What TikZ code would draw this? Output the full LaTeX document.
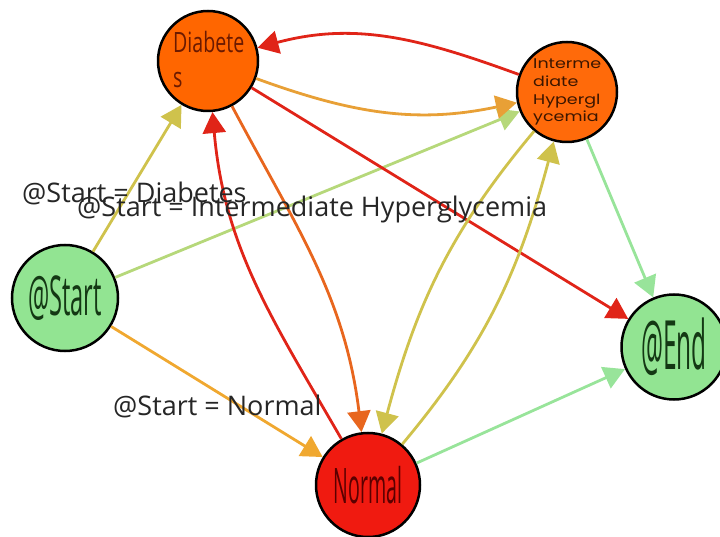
\documentclass[tikz,border=0pt]{standalone}
\usepackage{fontspec}
\usepackage{graphicx}
\setmainfont{Open Sans}
\newfontfamily\geofont{Poppins}
\usetikzlibrary{arrows.meta}

\definecolor{diabfill}{HTML}{FF6600}
\definecolor{interfill}{HTML}{FF6A0A}
\definecolor{greenfill}{HTML}{92E492}
\definecolor{normfill}{HTML}{F01A10}
\definecolor{diabtext}{HTML}{6B1A00}
\definecolor{intertext}{HTML}{3C1600}
\definecolor{greentext}{HTML}{143814}
\definecolor{normtext}{HTML}{5A0000}
\definecolor{labeltext}{HTML}{262626}
\definecolor{olive}{HTML}{CFC24C}
\definecolor{lime}{HTML}{B6D87A}
\definecolor{amber}{HTML}{F0A830}
\definecolor{redline}{HTML}{E02418}
\definecolor{orangeline}{HTML}{E8A036}
\definecolor{rust}{HTML}{E8661E}
\definecolor{paleg}{HTML}{98E49A}

\tikzset{
  state/.style={circle, draw=black, line width=2.5pt, inner sep=0pt},
  link/.style={line width=2.8pt, -{Triangle[length=21pt,width=23pt]}},
  edgelabel/.style={anchor=base west, inner sep=0pt, text=labeltext,
    font=\fontsize{27}{27}\selectfont},
  interline/.style={anchor=base west, inner sep=0pt, text=intertext}
}

\newcommand{\condtext}[3]{\scalebox{#1}[1]{\fontsize{#2}{#2}\selectfont #3}}
\newcommand{\geoline}[1]{\scalebox{1.25}[1]{\geofont\fontsize{14}{14}\selectfont #1}}

\begin{document}
\begin{tikzpicture}[x=1pt, y=1pt]
  \useasboundingbox (0,0) rectangle (720,536);

  % states
  \node[state, fill=diabfill, minimum size=100pt] (diab) at (208,475) {};
  \node[state, fill=interfill, minimum size=100pt] (inter) at (567,444) {};
  \node[state, fill=greenfill, minimum size=106pt, text=greentext] (start) at (65,238)
    {\condtext{0.43}{55}{@Start}};
  \node[state, fill=greenfill, minimum size=105pt, text=greentext] (end) at (674,189)
    {\condtext{0.36}{68}{@End}};
  \node[state, fill=normfill, minimum size=104pt, text=normtext] (norm) at (368,51)
    {\condtext{0.40}{49}{Normal}};

  % texts inside the orange states
  \node[anchor=base west, inner sep=0pt, text=diabtext] (diabA) at (173,483)
    {\condtext{0.70}{28}{Diabete}};
  \node[anchor=base west, inner sep=0pt, text=diabtext] (diabB) at (173,448)
    {\condtext{0.70}{28}{s}};
  \node[interline] (interA) at (533,467) {\geoline{Interme}};
  \node[interline] (interB) at (533,449) {\geoline{diate}};
  \node[interline] (interC) at (533,431) {\geoline{Hypergl}};
  \node[interline] (interD) at (533,414) {\geoline{ycemia}};

  % transitions
  \draw[link, draw=olive] (start) -- (diab);
  \draw[link, draw=lime] (start) -- (inter);
  \draw[link, draw=amber] (start) -- (norm);
  \draw[link, draw=redline] (inter) to[out=160, in=15] (diab);
  \draw[link, draw=orangeline] (diab) to[out=-20, in=192] (inter);
  \draw[link, draw=redline] (diab) -- (end);
  \draw[link, draw=rust] (diab) to[out=-62, in=97] (norm);
  \draw[link, draw=redline] (norm) to[out=120, in=-85] (diab);
  \draw[link, draw=olive] (inter) to[out=230, in=75] (norm);
  \draw[link, draw=olive] (norm) to[out=50, in=255] (inter);
  \draw[link, draw=paleg] (inter) -- (end);
  \draw[link, draw=paleg] (norm) -- (end);

  % start conditions
  \node[edgelabel] (lblD) at (22,333) {@Start = Diabetes};
  \node[edgelabel] (lblI) at (77,319) {@Start = Intermediate Hyperglycemia};
  \node[edgelabel] (lblN) at (113,121) {@Start = Normal};
\end{tikzpicture}
\end{document}
